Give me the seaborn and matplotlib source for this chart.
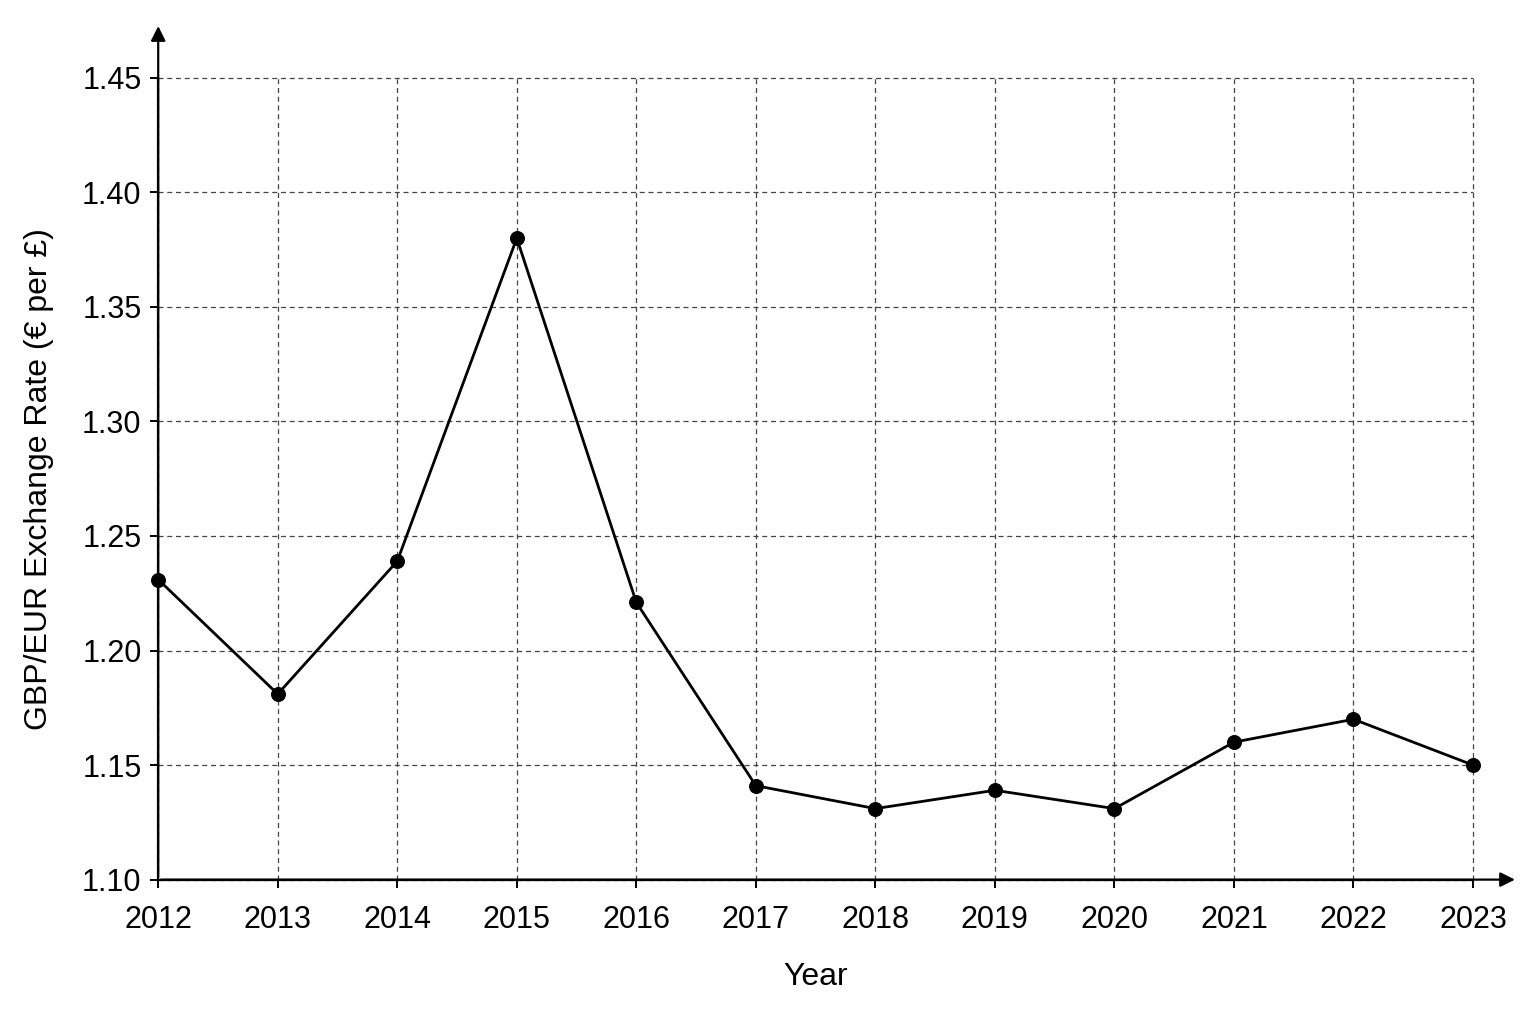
import matplotlib
matplotlib.use("Agg")
import matplotlib.pyplot as plt
import seaborn as sns
import pandas as pd

years = [2012, 2013, 2014, 2015, 2016, 2017, 2018, 2019, 2020, 2021, 2022, 2023]
rates = [1.231, 1.181, 1.239, 1.380, 1.221, 1.141, 1.131, 1.139, 1.131, 1.160, 1.170, 1.150]
yticks = [1.10, 1.15, 1.20, 1.25, 1.30, 1.35, 1.40, 1.45]

sns.set_style("white")
plt.rcParams['font.family'] = ['Liberation Sans', 'DejaVu Sans']

df = pd.DataFrame({"Year": years, "Rate": rates})

fig = plt.figure(figsize=(15.36, 10.24), dpi=100)
ax = fig.add_axes([0.103, 0.141, 0.856, 0.783])

sns.lineplot(data=df, x="Year", y="Rate", ax=ax, color="black", lw=2,
             marker="o", markersize=10, markeredgecolor="black", clip_on=False, zorder=5)

ax.set_xlim(2012, 2023)
ax.set_ylim(1.10, 1.45)
ax.set_xticks(years)
ax.set_yticks(yticks)
ax.set_yticklabels([f"{v:.2f}" for v in yticks])
ax.grid(True, linestyle=(0, (4, 3)), color="#444444", lw=0.9)
for gl in ax.get_xgridlines() + ax.get_ygridlines():
    gl.set_clip_on(False)
for s in ["top", "right"]:
    ax.spines[s].set_visible(False)
for s in ["left", "bottom"]:
    ax.spines[s].set_color("black")
    ax.spines[s].set_linewidth(1.6)

ax.annotate("", xy=(1.034, 0), xytext=(0, 0), xycoords="axes fraction",
            arrowprops=dict(arrowstyle="-|>", color="black", lw=1.6, mutation_scale=22))
ax.annotate("", xy=(0, 1.068), xytext=(0, 0), xycoords="axes fraction",
            arrowprops=dict(arrowstyle="-|>", color="black", lw=1.6, mutation_scale=22))

ax.tick_params(axis="both", labelsize=22, length=6, width=1.4, direction="out",
               bottom=True, left=True, colors="black")
ax.tick_params(axis="x", pad=12)
ax.tick_params(axis="y", pad=6)
ax.set_xlabel("Year", fontsize=23, labelpad=20, color="black")
ax.set_ylabel("GBP/EUR Exchange Rate (€ per £)", fontsize=23, labelpad=20, color="black")

fig.savefig("out.png", dpi=100, facecolor="white")
